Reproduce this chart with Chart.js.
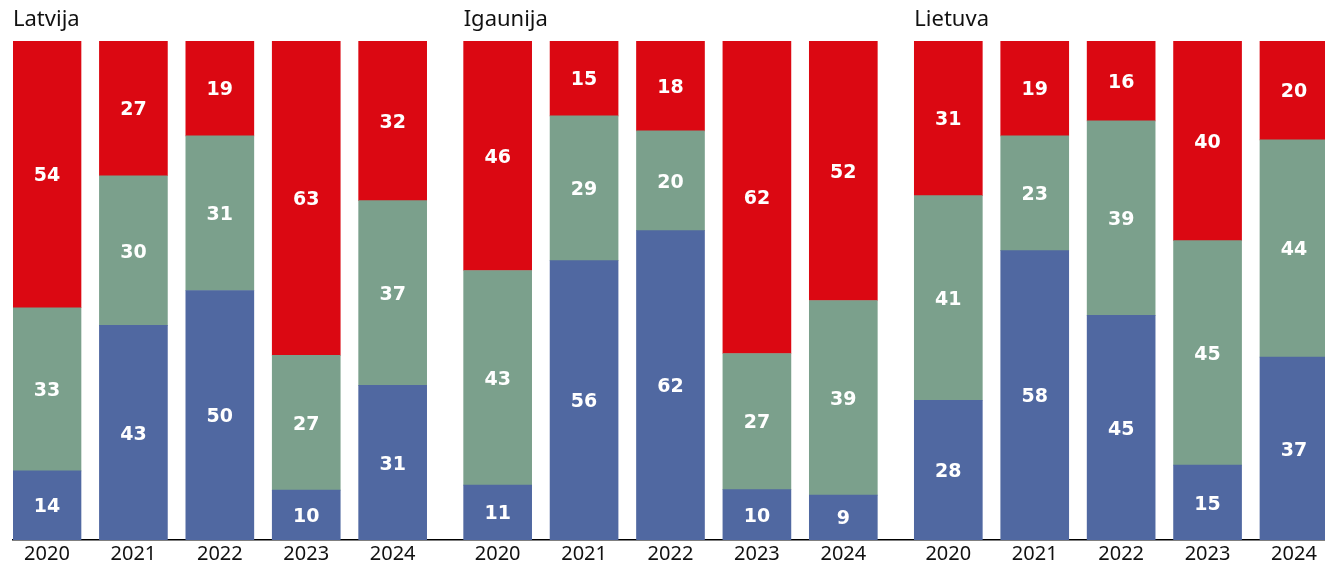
<!DOCTYPE html>
<html>
<head>
<meta charset="utf-8">
<script src="https://cdn.jsdelivr.net/npm/chart.js@4.4.1/dist/chart.umd.min.js"></script>
<style>
  html, body { margin: 0; padding: 0; background: #fff; }
  #wrap { width: 1325px; height: 565px; position: relative; }
</style>
</head>
<body>
<div id="wrap"><canvas id="chart"></canvas></div>
<script>
'use strict';

// ─── Data ─────────────────────────────────────────────
const years     = ['2020', '2021', '2022', '2023', '2024'];
const countries = ['Latvija', 'Igaunija', 'Lietuva'];

// bottom (blue), middle (green), top (red) — per country, per year
const lvBottom = [14, 43, 50, 10, 31];
const lvMiddle = [33, 30, 31, 27, 37];
const lvTop    = [54, 27, 19, 63, 32];

const eeBottom = [11, 56, 62, 10, 9];
const eeMiddle = [43, 29, 20, 27, 39];
const eeTop    = [46, 15, 18, 62, 52];

const ltBottom = [28, 58, 45, 15, 37];
const ltMiddle = [41, 23, 39, 45, 44];
const ltTop    = [31, 19, 16, 40, 20];

// ─── Layout ───────────────────────────────────────────
const PANEL_GAP = 5.215;   // distance between panels, in bar slots
const BAR_W     = 68;
const COLORS    = { bottom: '#5068a1', middle: '#7ba08c', top: '#db0812' };
const TEXT      = '#111111';

const bottoms = [lvBottom, eeBottom, ltBottom];
const middles = [lvMiddle, eeMiddle, ltMiddle];
const tops    = [lvTop, eeTop, ltTop];

const slotX = (p, i) => p * PANEL_GAP + i;
const tickPositions = [];
countries.forEach((c, p) => years.forEach((y, i) => tickPositions.push(slotX(p, i))));

// each bar is drawn as share of its own total so all stacks reach the top
function buildSeries(groups) {
  const pts = [], raw = [];
  groups.forEach((vals, p) => {
    vals.forEach((v, i) => {
      const total = bottoms[p][i] + middles[p][i] + tops[p][i];
      pts.push({ x: slotX(p, i), y: v / total * 100 });
      raw.push(v);
    });
  });
  return { pts, raw };
}

const sBottom = buildSeries(bottoms);
const sMiddle = buildSeries(middles);
const sTop    = buildSeries(tops);

// ─── Plugins ──────────────────────────────────────────
const segmentLabels = {
  id: 'segmentLabels',
  afterDatasetsDraw(chart) {
    const ctx = chart.ctx;
    ctx.save();
    ctx.fillStyle = '#fff';
    ctx.font = 'bold 19px "DejaVu Sans"';
    ctx.textAlign = 'center';
    ctx.textBaseline = 'middle';
    chart.data.datasets.forEach((ds, di) => {
      chart.getDatasetMeta(di).data.forEach((bar, j) => {
        const { x, y, base } = bar.getProps(['x', 'y', 'base'], true);
        ctx.fillText(String(ds.raw[j]), x, (y + base) / 2 + 2);
      });
    });
    ctx.restore();
  }
};

const panelTitles = {
  id: 'panelTitles',
  afterDraw(chart) {
    const ctx = chart.ctx;
    const xs = chart.scales.x;
    ctx.save();
    ctx.fillStyle = TEXT;
    ctx.font = '22px "Noto Sans"';
    ctx.textAlign = 'left';
    ctx.textBaseline = 'middle';
    countries.forEach((name, p) => {
      ctx.fillText(name, xs.getPixelForValue(slotX(p, 0)) - BAR_W / 2, 20);
    });
    ctx.restore();
  }
};

// ─── Chart ────────────────────────────────────────────
new Chart(document.getElementById('chart'), {
  type: 'bar',
  data: {
    datasets: [
      { label: 'bottom', data: sBottom.pts, raw: sBottom.raw, backgroundColor: COLORS.bottom },
      { label: 'middle', data: sMiddle.pts, raw: sMiddle.raw, backgroundColor: COLORS.middle },
      { label: 'top',    data: sTop.pts,    raw: sTop.raw,    backgroundColor: COLORS.top },
    ]
  },
  options: {
    responsive: true,
    maintainAspectRatio: false,
    animation: false,
    barThickness: BAR_W,
    borderWidth: 0,
    layout: { padding: { top: 41, left: 13, right: 0, bottom: -4 } },
    plugins: {
      legend: { display: false },
      tooltip: { enabled: false },
    },
    scales: {
      x: {
        type: 'linear',
        stacked: true,
        offset: false,
        min: -0.3934,
        max: 14.789,
        afterBuildTicks: scale => { scale.ticks = tickPositions.map(v => ({ value: v })); },
        grid: { display: false, drawTicks: false },
        border: { display: true, color: '#000', width: 1.5 },
        ticks: {
          autoSkip: false,
          maxRotation: 0,
          padding: 3,
          color: TEXT,
          font: { family: 'Noto Sans', size: 20, lineHeight: 1.15 },
          callback: (value, index) => years[index % years.length],
        },
      },
      y: {
        stacked: true,
        min: 0,
        max: 100,
        display: false,
      }
    }
  },
  plugins: [segmentLabels, panelTitles],
});
</script>
</body>
</html>
